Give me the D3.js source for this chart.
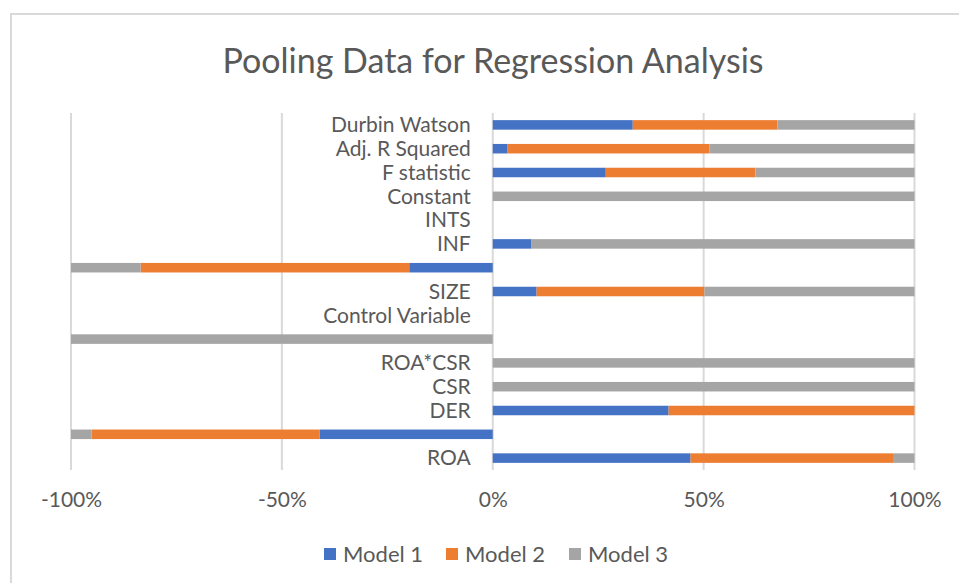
<!DOCTYPE html>
<html>
<head>
<meta charset="utf-8">
<script src="https://cdn.jsdelivr.net/npm/d3@7"></script>
<style>
  html, body { margin: 0; padding: 0; background: #fff; }
  svg { display: block; font-family: Lato, "Open Sans", sans-serif; }
</style>
</head>
<body>
<svg id="chart" width="959" height="583"></svg>
<script>
// Categories from bottom to top (blank rows are the unlabeled negative rows)
const categories = ["ROA", "", "DER", "CSR", "ROA*CSR", "", "Control Variable", "SIZE", "", "INF", "INTS", "Constant", "F statistic", "Adj. R Squared", "Durbin Watson"];
const seriesNames = ["Model 1", "Model 2", "Model 3"];
const model1 = [0.469, -0.410, 0.417, 0, 0, 0, 0, 0.104, -0.198, 0.092, 0, 0, 0.268, 0.034, 0.332];
const model2 = [0.480, -0.541, 0.583, 0, 0, 0, 0, 0.398, -0.637, 0, 0, 0, 0.355, 0.480, 0.343];
const model3 = [0.051, -0.049, 0, 1, 1, -1, 0, 0.498, -0.165, 0.908, 0, 1, 0.377, 0.486, 0.325];
const tickValues = [-1, -0.5, 0, 0.5, 1];
const tickLabels = ["-100%", "-50%", "0%", "50%", "100%"];
const colors = ["#4472C4", "#ED7D31", "#A5A5A5"];
const title = "Pooling Data for Regression Analysis";

const svg = d3.select("#chart");
const W = 959, H = 583;

// chart border
svg.append("rect").attr("x", 11).attr("y", 14).attr("width", W + 10).attr("height", H + 10)
  .attr("fill", "#fff").attr("stroke", "#d9d9d9").attr("stroke-width", 2);

const rows = categories.map((c, i) => ({ idx: i, cat: c, m1: model1[i], m2: model2[i], m3: model3[i] }));

const x = d3.scaleLinear().domain([-1, 1]).range([71, 914.5]);
const y = d3.scaleBand().domain(d3.range(categories.length).reverse()).range([113, 470]).paddingInner(0.6).paddingOuter(0.3);

// gridlines
svg.append("g").selectAll("line").data(tickValues).join("line")
  .attr("x1", d => x(d)).attr("x2", d => x(d))
  .attr("y1", 113).attr("y2", 470)
  .attr("stroke", "#d9d9d9").attr("stroke-width", 2);

// stacked bars
const stack = d3.stack().keys(["m1", "m2", "m3"]).offset(d3.stackOffsetDiverging);
const stacked = stack(rows);
svg.append("g").selectAll("g").data(stacked).join("g")
  .attr("fill", (d, i) => colors[i])
  .selectAll("rect").data(d => d).join("rect")
  .attr("x", d => x(Math.min(d[0], d[1])))
  .attr("width", d => Math.abs(x(d[1]) - x(d[0])))
  .attr("y", d => y(d.data.idx))
  .attr("height", y.bandwidth());

// category labels
svg.append("g").selectAll("text").data(rows.filter(d => d.cat !== "")).join("text")
  .attr("x", x(0) - 22)
  .attr("y", d => y(d.idx) + y.bandwidth() / 2)
  .attr("dy", "0.35em")
  .attr("text-anchor", "end")
  .attr("fill", "#595959")
  .attr("font-size", 21)
  .text(d => d.cat);

// x axis (labels only)
const xAxis = d3.axisBottom(x).tickValues(tickValues).tickFormat((d, i) => tickLabels[i]).tickSize(0).tickPadding(0);
const ax = svg.append("g").attr("transform", "translate(0,492)").call(xAxis);
ax.select(".domain").remove();
ax.selectAll("text").attr("fill", "#595959").attr("font-size", 21).attr("font-family", "Lato, sans-serif");

// title
svg.append("text").attr("x", 493).attr("y", 61).attr("dy", "0.35em")
  .attr("text-anchor", "middle").attr("fill", "#595959").attr("font-size", 34)
  .text(title);

// legend
const legendX = [324, 446, 569];
const lg = svg.append("g").selectAll("g").data(seriesNames).join("g")
  .attr("transform", (d, i) => `translate(${legendX[i]},548)`);
lg.append("rect").attr("width", 12).attr("height", 12).attr("fill", (d, i) => colors[i]);
lg.append("text").attr("x", 19).attr("y", 6.5).attr("dy", "0.35em")
  .attr("fill", "#595959").attr("font-size", 22).text(d => d);
</script>
</body>
</html>
